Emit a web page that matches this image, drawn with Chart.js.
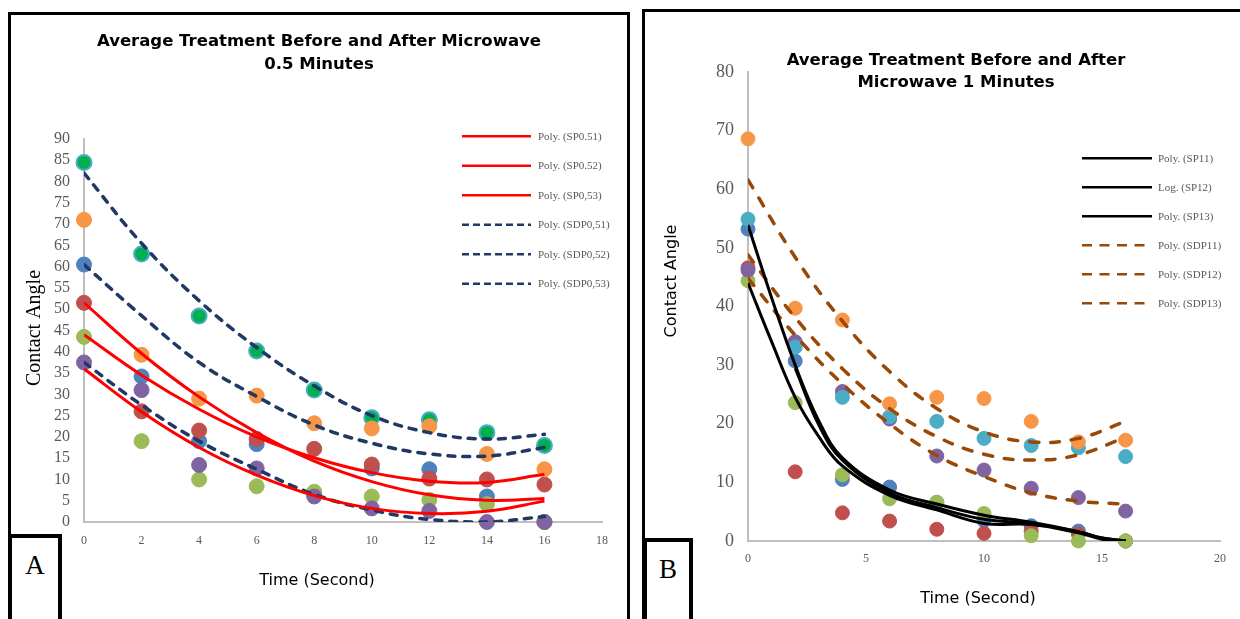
<!DOCTYPE html>
<html lang="en">
<head>
<meta charset="utf-8">
<title>Average Treatment Before and After Microwave</title>
<script src="https://cdn.jsdelivr.net/npm/chart.js@4.4.1/dist/chart.umd.min.js"></script>
<style>
  html, body { margin: 0; padding: 0; background: #fff; width: 1240px; height: 619px; overflow: hidden; }
  body { position: relative; }
  .frame { position: absolute; border: 3px solid #000; box-sizing: border-box; background: #fff; }
  #frame-a { left: 8px; top: 12px; width: 622px; height: 700px; }
  #frame-b { left: 642px; top: 9px; width: 700px; height: 700px; }
  canvas { position: absolute; }
  #chart-a { left: 11px; top: 15px; }
  #chart-b { left: 645px; top: 12px; }
  .tag { position: absolute; border: 4px solid #000; background: #fff; box-sizing: border-box;
         font-family: "Liberation Serif", serif; font-size: 27px; line-height: 30px; text-align: center; }
  #tag-a { left: 8px; top: 534px; width: 54px; height: 100px; padding-top: 12px; }
  #tag-b { left: 643px; top: 538px; width: 50px; height: 100px; padding-top: 12px; }
</style>
</head>
<body>
<div class="frame" id="frame-a"></div>
<div class="frame" id="frame-b"></div>
<canvas id="chart-a" width="616" height="604"></canvas>
<canvas id="chart-b" width="622" height="607"></canvas>
<div class="tag" id="tag-a">A</div>
<div class="tag" id="tag-b">B</div>
<script>
"use strict";

// ---- Panel A : 0.5 minutes ----
const timeA = [0, 2, 4, 6, 8, 10, 12, 14, 16];
const sp051A = [60.5, 34.2, 19, 18.3, 6.5, 12.6, 12.4, 6, 0];      // blue
const sp052A = [51.5, 26, 21.5, 19.5, 17.2, 13.5, 10.2, 10, 8.8];  // red
const sp053A = [43.5, 19, 10, 8.4, 7.1, 6, 5.2, 4.2, 0];           // olive
const sdp051A = [84.5, 63, 48.4, 40.2, 31, 24.5, 24, 21, 18];      // green
const sdp052A = [71, 39.3, 29, 29.7, 23.2, 22, 22.5, 16, 12.4];    // orange
const sdp053A = [37.5, 31, 13.4, 12.6, 6, 3.2, 2.6, 0, 0];         // purple

// trendlines
const polySp051A = [51.5, 39.6, 29.4, 21, 14.3, 9.5, 6.4, 5.1, 5.5];
const polySp052A = [44, 34.5, 26.5, 20, 15.1, 11.6, 9.6, 9.3, 11.2];
const polySp053A = [36, 25.9, 17.5, 11, 6.2, 3.2, 2, 2.5, 4.9];
const polySdp051A = [82, 65.5, 52, 41, 32, 25, 21, 19.5, 20.6];
const polySdp052A = [60.5, 48.5, 37.5, 29.5, 22.8, 18.5, 16, 15.5, 17.5];
const polySdp053A = [37.5, 27.5, 19, 12.4, 6.5, 2.8, 0.6, 0, 1.3];

// ---- Panel B : 1 minute ----
const timeB = [0, 2, 4, 6, 8, 10, 12, 14, 16];
const sp11B = [53.2, 30.7, 10.5, 9.2, 6.6, 3.5, 2.6, 1.7, 0];      // blue
const sp12B = [46.6, 11.8, 4.8, 3.4, 2, 1.3, 1.6, 1.2, 0];         // red
const sp13B = [44.4, 23.6, 11.3, 7.2, 6.6, 4.7, 0.9, 0, 0];        // olive
const sdp13B = [46.2, 34, 25.5, 20.8, 14.5, 12.1, 9, 7.4, 5.1];    // purple
const sdp12B = [54.9, 33.1, 24.5, 21.2, 20.4, 17.5, 16.3, 15.9, 14.4]; // aqua
const sdp11B = [68.6, 39.7, 37.7, 23.4, 24.5, 24.3, 20.4, 16.9, 17.2]; // orange

const fitTimeB = [0, 1, 2, 3, 4, 6, 8, 10, 12, 14, 15, 16];
const polySp11B = [53.9, 41.5, 30, 20.5, 14.2, 8.7, 6.3, 4.4, 3.2, 1.6, 0.5, 0];
const polySp13B = [44, 34, 24.5, 17.8, 12.8, 7.8, 5.3, 3.0, 2.8, 1.4, 0.3, 0];
const logTimeB = [2, 3, 4, 6, 8, 10, 12, 14, 15, 16];
const logSp12B = [29.5, 19.8, 13.8, 8.2, 5.7, 3.7, 3.0, 1.6, 0.5, 0];
const polySdp11B = [61.6, 48.4, 37.5, 28.9, 22.6, 18.6, 16.9, 17.5, 20.4];
const polySdp12B = [48.8, 38.1, 29.4, 22.6, 17.8, 14.8, 13.8, 14.7, 17.7];
const polySdp13B = [44.8, 35.1, 26.8, 20, 14.6, 11, 8.2, 6.8, 6.3];

const COLORS = {
  blue: "#4F81BD",
  red: "#C0504D",
  olive: "#9BBB59",
  purple: "#8064A2",
  aqua: "#4BACC6",
  orange: "#F79646",
  green: "#00B050",
};
const TICK_COLOR = "#595959";
const AXIS_COLOR = "#BFBFBF";

function toPoints(xs, ys) {
  return xs.map((x, i) => ({ x: x, y: ys[i] }));
}

function scatterSet(label, xs, ys, fill, border, radius) {
  return {
    type: "scatter",
    label: label,
    data: toPoints(xs, ys),
    backgroundColor: fill,
    borderColor: border || fill,
    borderWidth: border ? 2 : 1,
    pointRadius: radius,
    order: 1,
    clip: false,
  };
}

function trendSet(label, xs, ys, color, width, dash, legendDash) {
  return {
    type: "line",
    label: label,
    data: toPoints(xs, ys),
    borderColor: color,
    borderWidth: width,
    borderDash: dash,
    borderCapStyle: dash.length ? "round" : "butt",
    legendDash: legendDash,
    pointRadius: 0,
    fill: false,
    tension: 0.4,
    order: 0,
  };
}

// text drawn on the canvas: titles and axis titles
function textPlugin(items) {
  return {
    id: "panelText",
    afterDraw(chart) {
      const ctx = chart.ctx;
      items.forEach((item) => {
        ctx.save();
        ctx.translate(item.x, item.y);
        if (item.rotate) ctx.rotate(item.rotate);
        ctx.font = item.font;
        ctx.fillStyle = item.color || "#000";
        ctx.textAlign = "center";
        ctx.textBaseline = "middle";
        ctx.fillText(item.text, 0, 0);
        ctx.restore();
      });
    },
  };
}

// legend listing the trendlines only, placed like the Excel one
function legendPlugin(cfg) {
  return {
    id: "trendLegend",
    afterDraw(chart) {
      const ctx = chart.ctx;
      const lines = chart.data.datasets.filter((ds) => ds.type === "line");
      lines.forEach((ds, i) => {
        const y = cfg.y + i * cfg.gap;
        ctx.save();
        ctx.beginPath();
        ctx.strokeStyle = ds.borderColor;
        ctx.lineWidth = cfg.lineWidth;
        ctx.setLineDash(ds.legendDash || []);
        ctx.moveTo(cfg.x, y);
        ctx.lineTo(cfg.x + cfg.len, y);
        ctx.stroke();
        ctx.setLineDash([]);
        ctx.fillStyle = TICK_COLOR;
        ctx.font = cfg.font;
        ctx.textAlign = "left";
        ctx.textBaseline = "middle";
        ctx.fillText(ds.label, cfg.textX, y + 0.5);
        ctx.restore();
      });
    },
  };
}

function buildOptions(cfg) {
  return {
    responsive: false,
    animation: false,
    events: [],
    layout: { padding: cfg.padding },
    scales: {
      x: {
        type: "linear",
        min: 0,
        max: cfg.xMax,
        ticks: {
          stepSize: cfg.xStep,
          autoSkip: false,
          maxRotation: 0,
          color: TICK_COLOR,
          padding: cfg.xTickPad,
          font: { family: "Liberation Serif", size: cfg.xTickSize },
        },
        grid: { display: false, drawTicks: false },
        border: { display: true, color: AXIS_COLOR, width: 2 },
        afterFit: (scale) => { scale.height = 30; },
      },
      y: {
        type: "linear",
        min: 0,
        max: cfg.yMax,
        ticks: {
          stepSize: cfg.yStep,
          autoSkip: false,
          color: TICK_COLOR,
          padding: cfg.yTickPad,
          font: { family: "Liberation Serif", size: cfg.yTickSize },
        },
        grid: { display: false, drawTicks: false },
        border: { display: true, color: AXIS_COLOR, width: 2 },
        afterFit: (scale) => { scale.width = cfg.yWidth; },
      },
    },
    plugins: {
      legend: { display: false },
      tooltip: { enabled: false },
      title: { display: false },
    },
  };
}

function renderPanelA() {
  const navyDash = [7, 8];
  const navyLegend = [7, 4];
  const datasets = [
    trendSet("Poly. (SP0.51)", timeA, polySp051A, "#FF0000", 3, [], []),
    trendSet("Poly. (SP0.52)", timeA, polySp052A, "#FF0000", 3, [], []),
    trendSet("Poly. (SP0,53)", timeA, polySp053A, "#FF0000", 3, [], []),
    trendSet("Poly. (SDP0,51)", timeA, polySdp051A, "#203864", 3.5, navyDash, navyLegend),
    trendSet("Poly. (SDP0,52)", timeA, polySdp052A, "#203864", 3.5, navyDash, navyLegend),
    trendSet("Poly. (SDP0,53)", timeA, polySdp053A, "#203864", 3.5, navyDash, navyLegend),
    scatterSet("SDP0,52", timeA, sdp052A, COLORS.orange, null, 7.5),
    scatterSet("SDP0,51", timeA, sdp051A, COLORS.green, COLORS.aqua, 7.5),
    scatterSet("SDP0,53", timeA, sdp053A, COLORS.purple, null, 7.5),
    scatterSet("SP0,53", timeA, sp053A, COLORS.olive, null, 7.5),
    scatterSet("SP0.52", timeA, sp052A, COLORS.red, null, 7.5),
    scatterSet("SP0.51", timeA, sp051A, COLORS.blue, null, 7.5),
  ];

  const options = buildOptions({
    padding: { left: 0, right: 25, top: 124, bottom: 67 },
    xMax: 18, xStep: 2, xTickPad: 12, xTickSize: 12,
    yMax: 90, yStep: 5, yTickPad: 14, yTickSize: 16,
    yWidth: 73,
  });

  const texts = textPlugin([
    { text: "Average Treatment Before and After Microwave", x: 308, y: 27, font: "bold 16.5px 'DejaVu Sans'" },
    { text: "0.5 Minutes", x: 308, y: 50, font: "bold 16.5px 'DejaVu Sans'" },
    { text: "Time (Second)", x: 306, y: 566, font: "16px 'DejaVu Sans'" },
    { text: "Contact Angle", x: 24, y: 313, font: "20px 'Liberation Serif'", rotate: -Math.PI / 2 },
  ]);
  const legend = legendPlugin({
    x: 451, len: 69, textX: 527, y: 121.3, gap: 29.5, lineWidth: 2.5,
    font: "11px 'Liberation Serif'",
  });

  new Chart(document.getElementById("chart-a"), {
    type: "scatter",
    data: { datasets: datasets },
    options: options,
    plugins: [texts, legend],
  });
}

function renderPanelB() {
  const brownDash = [9, 12];
  const brownLegend = [10, 7.5];
  const datasets = [
    trendSet("Poly. (SP11)", fitTimeB, polySp11B, "#000000", 3, [], []),
    trendSet("Log. (SP12)", logTimeB, logSp12B, "#000000", 3, [], []),
    trendSet("Poly. (SP13)", fitTimeB, polySp13B, "#000000", 3, [], []),
    trendSet("Poly. (SDP11)", timeB, polySdp11B, "#984807", 3.5, brownDash, brownLegend),
    trendSet("Poly. (SDP12)", timeB, polySdp12B, "#984807", 3.5, brownDash, brownLegend),
    trendSet("Poly. (SDP13)", timeB, polySdp13B, "#984807", 3.5, brownDash, brownLegend),
    scatterSet("SDP11", timeB, sdp11B, COLORS.orange, null, 7),
    scatterSet("SDP12", timeB, sdp12B, COLORS.aqua, null, 7),
    scatterSet("SDP13", timeB, sdp13B, COLORS.purple, null, 7),
    scatterSet("SP13", timeB, sp13B, COLORS.olive, null, 7),
    scatterSet("SP12", timeB, sp12B, COLORS.red, null, 7),
    scatterSet("SP11", timeB, sp11B, COLORS.blue, null, 7),
  ];

  const options = buildOptions({
    padding: { left: 0, right: 47, top: 60, bottom: 48 },
    xMax: 20, xStep: 5, xTickPad: 11, xTickSize: 12,
    yMax: 80, yStep: 10, yTickPad: 14, yTickSize: 18,
    yWidth: 103,
  });

  const texts = textPlugin([
    { text: "Average Treatment Before and After", x: 311, y: 49, font: "bold 16.5px 'DejaVu Sans'" },
    { text: "Microwave 1 Minutes", x: 311, y: 71, font: "bold 16.5px 'DejaVu Sans'" },
    { text: "Time (Second)", x: 333, y: 587, font: "16px 'DejaVu Sans'" },
    { text: "Contact Angle", x: 27, y: 269, font: "16px 'DejaVu Sans'", rotate: -Math.PI / 2 },
  ]);
  const legend = legendPlugin({
    x: 437, len: 70, textX: 513, y: 146.3, gap: 29, lineWidth: 2.5,
    font: "11px 'Liberation Serif'",
  });

  new Chart(document.getElementById("chart-b"), {
    type: "scatter",
    data: { datasets: datasets },
    options: options,
    plugins: [texts, legend],
  });
}

renderPanelA();
renderPanelB();
</script>
</body>
</html>
